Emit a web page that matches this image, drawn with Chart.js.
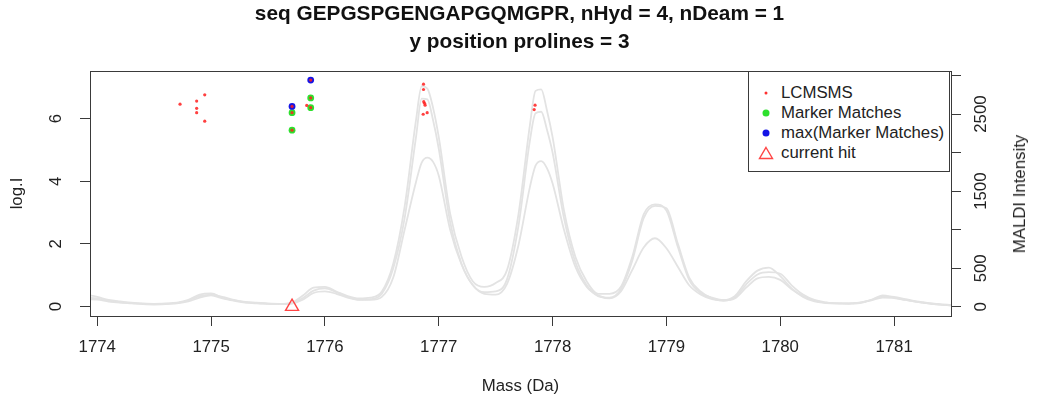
<!DOCTYPE HTML>
<html>
<head>
  <title>seq GEPGSPGENGAPGQMGPR</title>
  <meta charset="utf-8">
  <script src="https://cdn.jsdelivr.net/npm/chart.js"></script>
  <style>
    body { margin: 0; background: #fff; }
    #wrap { position: relative; width: 1039px; height: 401px; font-family: "Liberation Sans", Arial, sans-serif; color: #222; }
    #legend { position: absolute; left: 748px; top: 71px; width: 202px; height: 101px; box-sizing: border-box; border: 1px solid #3a3a3a; background: #fff; }
    #legend .row { position: absolute; left: 0; height: 20px; line-height: 20px; font-size: 16.8px; white-space: nowrap; }
    #legend .sym { position: absolute; top: 10px; left: 17px; transform: translate(-50%, -50%); }
    #legend .txt { position: absolute; left: 32px; top: 0; }
    .dot { display: block; border-radius: 50%; }
    #rtitle { position: absolute; left: 1020px; top: 193.5px; transform: translate(-50%, -50%) rotate(-90deg); font-size: 16.8px; white-space: nowrap; }
  </style>
</head>
<body>
  <div id="wrap">
    <canvas id="massChart" width="1039" height="401"></canvas>
    <div id="legend">
      <div class="row" style="top:10.7px"><span class="sym"><span class="dot" style="width:3px;height:3px;background:#ff3030"></span></span><span class="txt">LCMSMS</span></div>
      <div class="row" style="top:31.3px"><span class="sym"><span class="dot" style="width:7px;height:7px;background:#2ee02e"></span></span><span class="txt">Marker Matches</span></div>
      <div class="row" style="top:51.3px"><span class="sym"><span class="dot" style="width:7px;height:7px;background:#1414e6"></span></span><span class="txt">max(Marker Matches)</span></div>
      <div class="row" style="top:71.3px"><span class="sym"><svg width="16" height="14" style="display:block"><polygon points="8,1.5 14.5,12.5 1.5,12.5" fill="none" stroke="#ff4545" stroke-width="1.4"/></svg></span><span class="txt">current hit</span></div>
    </div>
    <div id="rtitle">MALDI Intensity</div>
  </div>

  <script type="text/javascript">

    // MALDI spectra (right axis), mostly every 0.1 Da, finer at the two big peaks
    var mass  = [1773.9, 1774.0, 1774.1, 1774.2, 1774.3, 1774.4, 1774.5, 1774.6, 1774.7, 1774.8,
                 1774.9, 1775.0, 1775.1, 1775.2, 1775.3, 1775.4, 1775.5, 1775.6, 1775.7, 1775.8,
                 1775.9, 1776.0, 1776.1, 1776.2, 1776.3, 1776.4, 1776.5, 1776.6, 1776.7, 1776.8,
                 1776.85, 1776.9, 1776.95, 1777.0, 1777.1, 1777.2, 1777.3, 1777.4, 1777.5, 1777.6,
                 1777.7, 1777.8, 1777.85, 1777.9, 1777.95, 1778.0, 1778.1, 1778.2, 1778.3, 1778.4,
                 1778.5, 1778.6, 1778.7, 1778.8, 1778.9, 1779.0, 1779.1, 1779.2, 1779.3, 1779.4,
                 1779.5, 1779.6, 1779.7, 1779.8, 1779.9, 1780.0, 1780.1, 1780.2, 1780.3, 1780.4,
                 1780.5, 1780.6, 1780.7, 1780.8, 1780.9, 1781.0, 1781.1, 1781.2, 1781.3, 1781.4,
                 1781.5];
    var spec1 = [160, 130, 90, 70, 55, 45, 40, 45, 55, 90,
                 160, 175, 120, 85, 65, 55, 45, 40, 50, 140,
                 250, 260, 200, 140, 110, 120, 200, 560, 1300, 2420,
                 2860, 2830, 2580, 2200, 1210, 650, 330, 260, 310, 480,
                 1200, 2350, 2800, 2820, 2550, 2200, 1250, 650, 330, 170,
                 170, 260, 650, 1200, 1330, 1250, 780, 350, 180, 120,
                 90, 140, 330, 470, 510, 400, 240, 130, 70, 50,
                 45, 45, 55, 90, 150, 120, 90, 65, 45, 30,
                 20];
    var spec2 = [120, 110, 80, 60, 50, 40, 35, 40, 50, 80,
                 140, 160, 130, 90, 60, 50, 40, 35, 45, 110,
                 210, 240, 190, 130, 95, 100, 170, 500, 1150, 2200,
                 2700, 2690, 2420, 2050, 1100, 560, 280, 190, 200, 360,
                 1050, 2150, 2510, 2530, 2300, 2000, 1150, 580, 280, 140,
                 120, 230, 600, 1150, 1310, 1280, 820, 380, 200, 110,
                 80, 120, 290, 420, 450, 430, 280, 160, 90, 60,
                 45, 40, 50, 90, 135, 130, 100, 70, 50, 35,
                 25];
    var spec3 = [100, 95, 70, 55, 45, 35, 30, 35, 45, 70,
                 120, 150, 110, 80, 55, 45, 40, 35, 40, 90,
                 180, 200, 170, 120, 90, 90, 130, 380, 1000, 1620,
                 1870, 1935, 1880, 1700, 1000, 550, 280, 170, 160, 300,
                 800, 1550, 1830, 1890, 1800, 1600, 1000, 520, 260, 150,
                 110, 200, 480, 770, 890, 760, 520, 280, 160, 100,
                 85, 110, 250, 370, 390, 350, 230, 140, 80, 55,
                 45, 45, 55, 85, 120, 115, 90, 65, 45, 30,
                 20];

    // log intensities (left axis)
    var lcmsmsMass = [1774.727, 1774.873, 1774.873, 1774.873, 1774.944, 1774.944,
                      1775.711, 1775.711, 1775.711, 1775.840, 1775.875, 1775.875, 1775.875,
                      1776.866, 1776.866, 1776.868, 1776.875, 1776.880, 1776.863, 1776.898,
                      1777.846, 1777.838];
    var lcmsmsLogI = [6.46, 6.56, 6.33, 6.19, 6.76, 5.92,
                      6.39, 6.19, 5.63, 6.42, 7.23, 6.66, 6.35,
                      7.10, 6.93, 6.54, 6.49, 6.43, 6.14, 6.19,
                      6.43, 6.29];
    var markerMass = [1775.711, 1775.711, 1775.875, 1775.875];
    var markerLogI = [6.19, 5.63, 6.66, 6.35];
    var maxMass    = [1775.711, 1775.875];
    var maxLogI    = [6.39, 7.23];
    var hitMass    = [1775.711];
    var hitLogI    = [0.0];

    // axes
    var xTicks = [1774, 1775, 1776, 1777, 1778, 1779, 1780, 1781];
    var yTicks = [0, 2, 4, 6];
    var rightTicks = [0, 500, 1000, 1500, 2000, 2500, 3000];
    var rightTickLabels = ["0", "500", "", "1500", "", "2500", ""];

    function toPoints(xs, ys) {
      var pts = [];
      for (var i = 0; i < xs.length; i++) pts.push({x: xs[i], y: ys[i]});
      return pts;
    }
    function fixTicks(list) {
      return function (scale) { scale.ticks = list.map(function (v) { return {value: v}; }); };
    }

    var axisColor = '#3a3a3a';
    var textColor = '#222';
    var specColor = '#e3e3e3';

    var plotBox = {
      id: 'plotBox',
      afterDatasetsDraw: function (chart) {
        var a = chart.chartArea, c = chart.ctx;
        c.save();
        c.strokeStyle = axisColor;
        c.lineWidth = 1;
        c.strokeRect(Math.round(a.left) + 0.5, Math.round(a.top) + 0.5, Math.round(a.right - a.left), Math.round(a.bottom - a.top));
        c.restore();
      }
    };

    Chart.defaults.font.family = '"Liberation Sans", Arial, sans-serif';
    Chart.defaults.font.size = 16.8;
    Chart.defaults.color = textColor;

    function specSet(ys) {
      return {
        type: 'line',
        yAxisID: 'y2',
        data: toPoints(mass, ys),
        borderColor: specColor,
        borderWidth: 1.8,
        pointRadius: 0,
        cubicInterpolationMode: 'monotone',
        order: 5
      };
    }

    var massChart = new Chart(document.getElementById('massChart'), {
      type: 'scatter',
      plugins: [plotBox],
      data: {
        datasets: [
          { label: 'LCMSMS', data: toPoints(lcmsmsMass, lcmsmsLogI), yAxisID: 'y',
            pointRadius: 1.6, pointBackgroundColor: 'rgba(255,30,30,0.85)', pointBorderWidth: 0, order: 0 },
          { label: 'max(Marker Matches)', data: toPoints(maxMass, maxLogI), yAxisID: 'y',
            pointRadius: 3.4, pointBackgroundColor: '#1414e6', pointBorderWidth: 0, order: 1 },
          { label: 'Marker Matches', data: toPoints(markerMass, markerLogI), yAxisID: 'y',
            pointRadius: 3.4, pointBackgroundColor: '#2ee02e', pointBorderWidth: 0, order: 2 },
          { label: 'current hit', data: toPoints(hitMass, hitLogI), yAxisID: 'y',
            pointStyle: 'triangle', pointRadius: 7.5, pointBackgroundColor: 'rgba(0,0,0,0)',
            pointBorderColor: '#ff4545', pointBorderWidth: 1.4, order: 1 },
          specSet(spec1),
          specSet(spec2),
          specSet(spec3)
        ]
      },
      options: {
        responsive: false,
        animation: false,
        devicePixelRatio: 1,
        layout: { padding: 0 },
        plugins: {
          legend: { display: false },
          tooltip: { enabled: false },
          title: {
            display: true,
            text: 'seq GEPGSPGENGAPGQMGPR, nHyd = 4, nDeam = 1',
            color: '#111',
            font: { size: 20.8, weight: 'bold', lineHeight: 1.0 },
            padding: { top: 3.6, bottom: 3.6 }
          },
          subtitle: {
            display: true,
            text: 'y position prolines = 3',
            color: '#111',
            font: { size: 20.8, weight: 'bold', lineHeight: 1.0 },
            padding: { top: 3.6, bottom: 18.6 }
          }
        },
        scales: {
          x: {
            type: 'linear',
            position: 'bottom',
            min: 1773.936,
            max: 1781.50,
            afterBuildTicks: fixTicks(xTicks),
            afterFit: function (s) { s.height = 85; },
            ticks: { padding: 11, maxRotation: 0, callback: function (v) { return String(v); } },
            grid: { drawOnChartArea: false, drawTicks: true, tickLength: 10, tickColor: axisColor },
            border: { display: false },
            title: { display: true, text: 'Mass (Da)', padding: { top: 0, bottom: 4.4 } }
          },
          y: {
            type: 'linear',
            position: 'left',
            min: -0.30,
            max: 7.52,
            afterBuildTicks: fixTicks(yTicks),
            afterFit: function (s) { s.width = 90; },
            ticks: { padding: 19, minRotation: 90, maxRotation: 90, crossAlign: 'center' },
            grid: { drawOnChartArea: false, drawTicks: true, tickLength: 10, tickColor: axisColor },
            border: { display: false },
            title: { display: true, text: 'log.I', padding: { top: 7.5, bottom: 0 } }
          },
          y2: {
            type: 'linear',
            position: 'right',
            min: -118,
            max: 3058,
            afterBuildTicks: fixTicks(rightTicks),
            afterFit: function (s) { s.width = 88; },
            ticks: {
              padding: 2, minRotation: 90, maxRotation: 90, crossAlign: 'center',
              callback: function (v) { var i = rightTicks.indexOf(v); return i < 0 ? '' : rightTickLabels[i]; }
            },
            grid: { drawOnChartArea: false, drawTicks: true, tickLength: 10, tickColor: axisColor },
            border: { display: false }
          }
        }
      }
    });

  </script>
</body>
</html>
